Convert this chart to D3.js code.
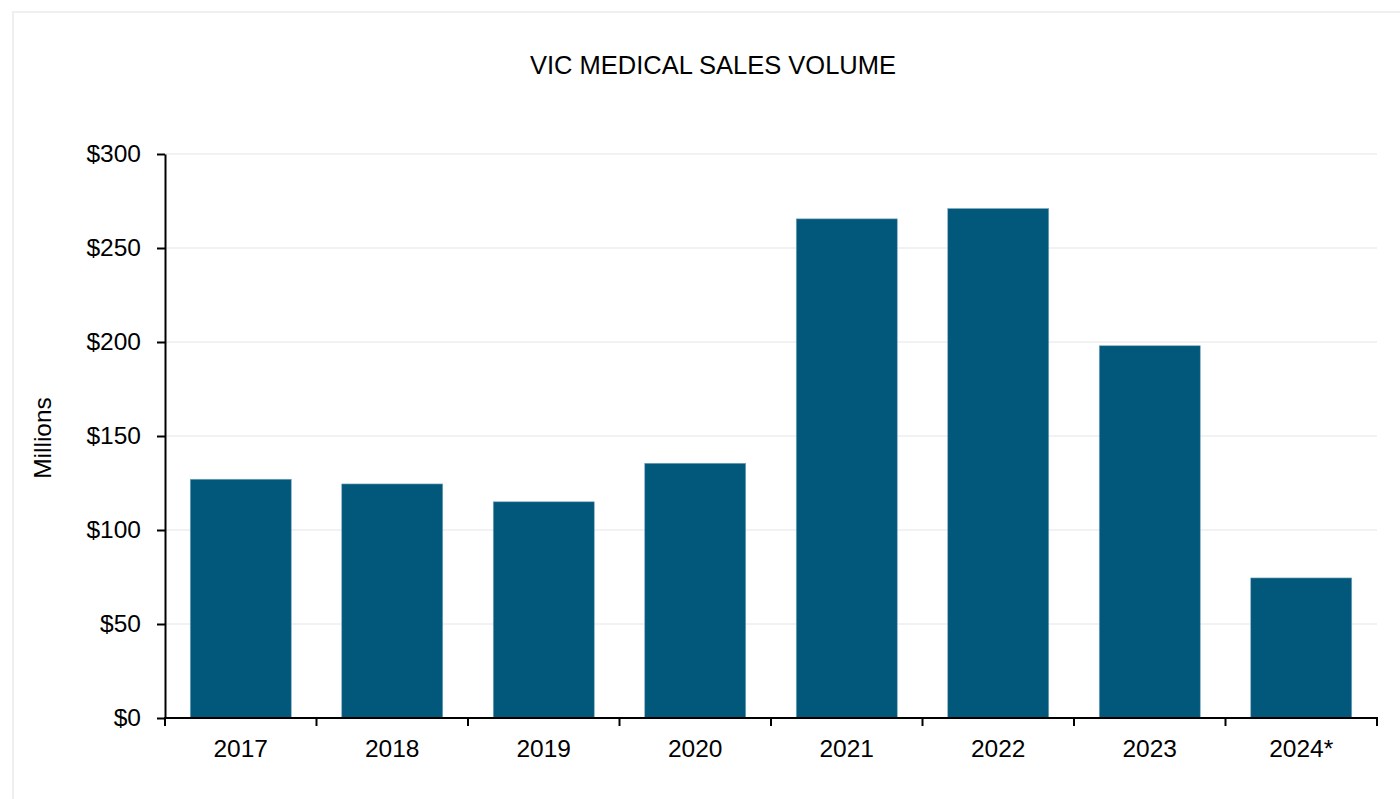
<!DOCTYPE html>
<html>
<head>
<meta charset="utf-8">
<script src="https://cdn.jsdelivr.net/npm/d3@7"></script>
<style>
  body { margin: 0; background: #fff; }
  svg { display: block; font-family: "Liberation Sans", Arial, sans-serif; }
</style>
</head>
<body>
<div id="chart"></div>
<script>
// data (AUD millions)
const years = ["2017", "2018", "2019", "2020", "2021", "2022", "2023", "2024*"];
const salesVolume = [127, 124.5, 115, 135.5, 265.5, 271, 198, 74.5];
const yTicks = [0, 50, 100, 150, 200, 250, 300];

const width = 1400;
const height = 799;
const margin = { top: 154, right: 23, bottom: 81, left: 165 };

const svg = d3.select("#chart").append("svg")
  .attr("width", width)
  .attr("height", height);

// light frame around the chart area
svg.append("rect")
  .attr("x", 13)
  .attr("y", 12)
  .attr("width", width + 20)
  .attr("height", height + 20)
  .style("fill", "none")
  .style("stroke", "#efefef")
  .style("stroke-width", 2);

var x = d3.scaleBand()
  .domain(years)
  .range([margin.left, width - margin.right])
  .paddingInner(1 / 3)
  .paddingOuter(1 / 6);

var y = d3.scaleLinear()
  .domain([0, 300])
  .range([height - margin.bottom, margin.top]);

// gridlines
svg.append("g")
  .selectAll("line")
  .data(yTicks.slice(1))
  .join("line")
  .attr("x1", margin.left)
  .attr("x2", width - margin.right)
  .attr("y1", d => y(d))
  .attr("y2", d => y(d))
  .style("stroke", "#eeeeee")
  .style("stroke-width", 1.5);

// bars
svg.append("g")
  .selectAll("rect")
  .data(years)
  .join("rect")
  .attr("x", d => x(d))
  .attr("y", (d, i) => y(salesVolume[i]))
  .attr("width", x.bandwidth())
  .attr("height", (d, i) => y(0) - y(salesVolume[i]))
  .style("fill", "#02587a")
  .style("stroke", "#7fa9c0")
  .style("stroke-width", 0.6);

// y axis
var yAxis = svg.append("g")
  .attr("transform", "translate(" + margin.left + ",0)")
  .call(d3.axisLeft(y).tickValues(yTicks).tickFormat(d => "$" + d).tickSize(8).tickPadding(16).tickSizeOuter(0));

yAxis.selectAll("text")
  .style("font-size", "24.5px")
  .style("fill", "#000");
yAxis.selectAll("line, path").style("stroke", "#000").style("stroke-width", 2);

// x axis: ticks sit on the category boundaries
var xAxis = svg.append("g")
  .attr("transform", "translate(0," + y(0) + ")");

xAxis.append("line")
  .attr("x1", margin.left - 1)
  .attr("x2", width - margin.right + 1)
  .style("stroke", "#000")
  .style("stroke-width", 2);

var step = x.step();
var bounds = d3.range(years.length + 1).map(i => margin.left + i * step);

xAxis.selectAll(".tick")
  .data(bounds)
  .join("line")
  .attr("class", "tick")
  .attr("x1", d => d)
  .attr("x2", d => d)
  .attr("y1", 0)
  .attr("y2", 8)
  .style("stroke", "#000")
  .style("stroke-width", 2);

xAxis.selectAll(".label")
  .data(years)
  .join("text")
  .attr("class", "label")
  .attr("x", d => x(d) + x.bandwidth() / 2)
  .attr("y", 39)
  .attr("text-anchor", "middle")
  .style("font-size", "24.5px")
  .style("fill", "#000")
  .text(d => d);

// title
svg.append("text")
  .attr("x", 713)
  .attr("y", 74)
  .attr("text-anchor", "middle")
  .style("font-size", "25.5px")
  .style("fill", "#000")
  .text("VIC MEDICAL SALES VOLUME");

// y axis label
svg.append("text")
  .attr("transform", "translate(51,438) rotate(-90)")
  .attr("text-anchor", "middle")
  .style("font-size", "24.5px")
  .style("fill", "#000")
  .text("Millions");
</script>
</body>
</html>
